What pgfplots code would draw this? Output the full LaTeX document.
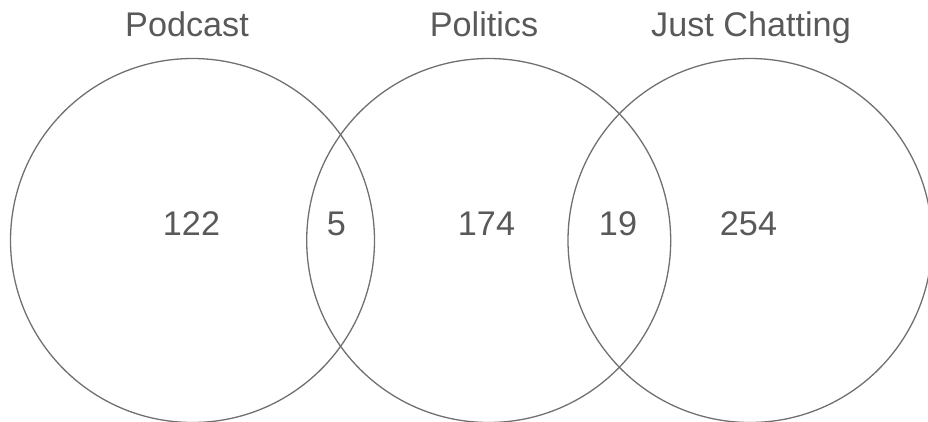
\documentclass[border=0pt]{standalone}
\usepackage{fontspec}
\setmainfont{Liberation Sans}
\usepackage{pgfplots}
\pgfplotsset{compat=1.18}
\definecolor{ringgray}{HTML}{707070}
\definecolor{textgray}{HTML}{595959}

% circle centres (px of the reference, y measured from the top)
\pgfplotstableread[col sep=comma]{
x,y
192.5,240.5
488.7,240.5
750,240.5
}\circles

\pgfplotstableread[col sep=comma]{
x,y,label
187,36,Podcast
484,36,Politics
751,36,Just Chatting
191.5,235,122
336.5,235,5
486.5,235,174
618,235,19
748.5,235,254
}\labels

\begin{document}
\begin{tikzpicture}
\begin{axis}[
    width=928pt, height=421pt,
    scale only axis,
    xmin=0, xmax=928,
    ymin=0, ymax=421,
    y dir=reverse,
    axis lines=none,
    clip marker paths=true,
]
\addplot[only marks, mark=o, mark size=182pt,
    mark options={draw=ringgray, line width=1.3pt}] table {\circles};
\addplot[only marks, mark=none,
    point meta=explicit symbolic,
    nodes near coords,
    nodes near coords align={anchor=base},
    nodes near coords style={inner sep=0pt, text=textgray,
        font=\fontsize{34.2}{41}\selectfont}]
    table[meta=label] {\labels};
\end{axis}
\pgfresetboundingbox
\path (current axis.south west) rectangle (current axis.north east);
\end{tikzpicture}
\end{document}
